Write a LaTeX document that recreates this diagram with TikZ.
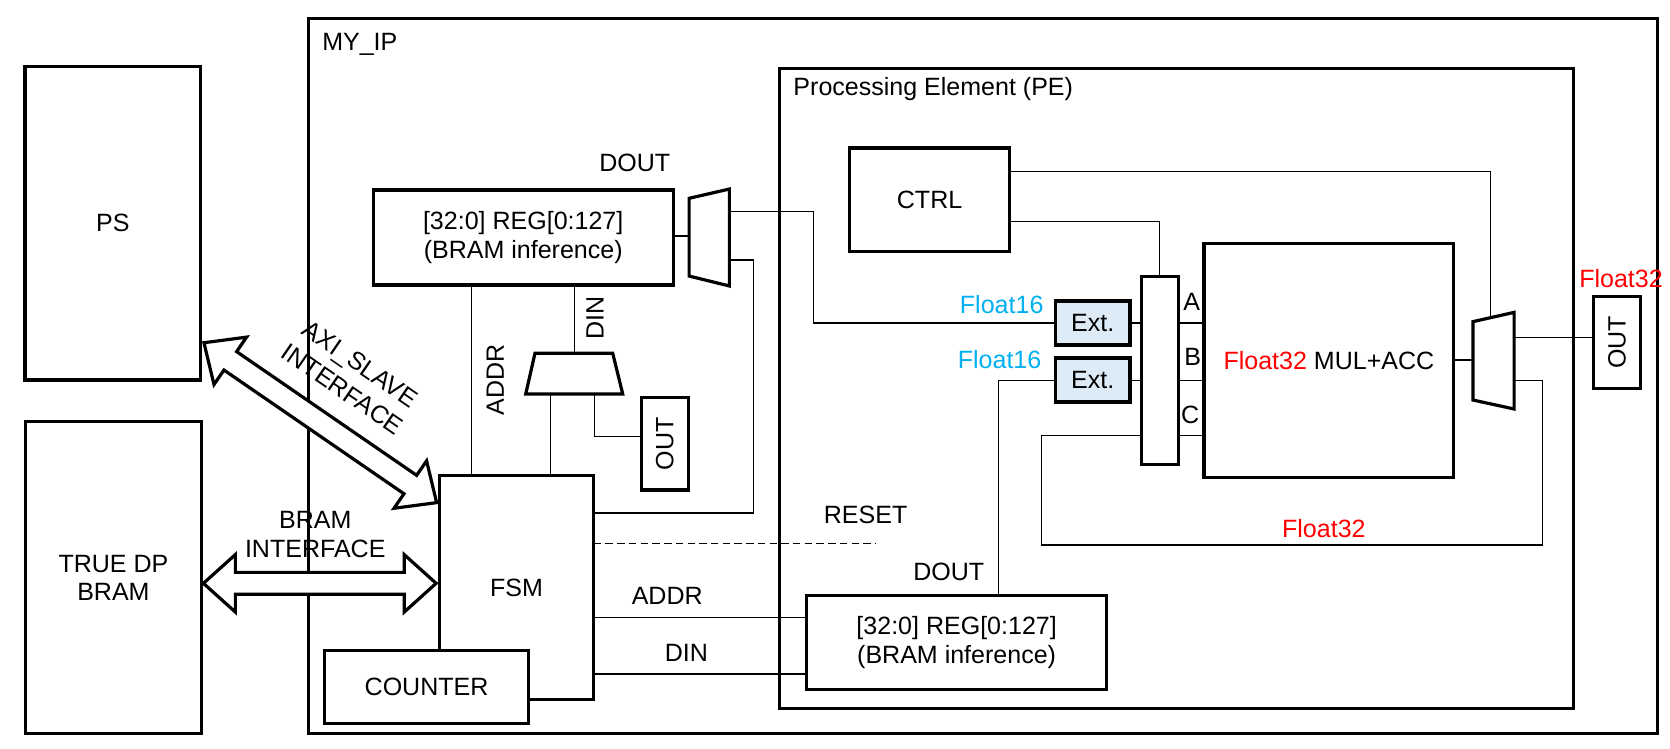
\documentclass[tikz,border=0pt]{standalone}
\usepackage{fontspec}
\setmainfont{Liberation Sans}
\definecolor{fsixteen}{HTML}{00B0F0}
\definecolor{fthirtytwo}{HTML}{FF0000}
\definecolor{extfill}{HTML}{DDEBF7}
\begin{document}
\begin{tikzpicture}[x=1pt,y=-1pt,
  font=\fontsize{23.5}{27}\selectfont,
  box/.style={draw,line width=3pt,fill=white,inner sep=0pt,outer sep=0pt,align=center},
  frame/.style={draw,line width=3pt,inner sep=0pt,outer sep=0pt},
  extbox/.style={draw,line width=3.6pt,fill=extfill,inner sep=0pt,outer sep=0pt,minimum width=70pt,minimum height=41.5pt},
  wire/.style={line width=1.1pt},
  lbl/.style={inner sep=0pt,outer sep=0pt,align=center},
  muxshape/.style={draw,line width=3pt,fill=white,line join=miter},
  blockarrow/.style={draw,line width=3pt,fill=white,line join=miter},
]
\useasboundingbox (0,0) rectangle (1568,703);

% frames
\node[frame,minimum width=1266pt,minimum height=672pt] (myip) at (923,353) {};
\node[lbl,anchor=west] (myiplbl) at (302.6,42) {MY\_IP};
\node[frame,minimum width=745pt,minimum height=601pt] (pe) at (1104.5,364.5) {};
\node[lbl,anchor=west] (pelbl) at (745,84) {Processing Element (PE)};

% outside blocks
\node[box,minimum width=165pt,minimum height=294pt] (ps) at (106,209.7) {PS};
\node[box,minimum width=165pt,minimum height=293pt] (tdp) at (106.5,542.5) {TRUE DP\\BRAM};

% MY_IP blocks
\node[box,minimum width=281.5pt,minimum height=89.2pt] (reg1) at (491.25,223) {[32:0] REG[0:127]\\(BRAM inference)};
\node[box,minimum width=145pt,minimum height=210.5pt] (fsm) at (485,551.75) {FSM};
\node[box,minimum width=191pt,minimum height=68pt] (counter) at (400.5,645) {COUNTER};
\node[box,minimum width=44.3pt,minimum height=86.6pt] (out1) at (624.2,416.7) {\rotatebox{90}{OUT}};

% PE blocks
\node[box,minimum width=281.5pt,minimum height=87.7pt] (reg2) at (898.2,603.2) {[32:0] REG[0:127]\\(BRAM inference)};
\node[box,minimum width=149.7pt,minimum height=97pt] (ctrl) at (872.8,187.5) {CTRL};
\node[box,minimum width=35pt,minimum height=176.2pt] (bar) at (1088.9,347.9) {};
\node[extbox] (ext1) at (1026,303.3) {Ext.};
\node[extbox] (ext2) at (1026,357) {Ext.};
\node[box,minimum width=234.6pt,minimum height=219.5pt] (mul) at (1247.7,338.25) {{\color{fthirtytwo}Float32} MUL+ACC};
\node[box,minimum width=44.5pt,minimum height=86pt] (out2) at (1518.25,321.6) {\rotatebox{90}{OUT}};

% multiplexers
\draw[muxshape] (647,186.2) -- (684.8,177.5) -- (684.8,268.5) -- (647,259.2) -- cycle;
\draw[muxshape] (502.3,331.7) -- (575.3,331.7) -- (584.7,370) -- (493.6,370) -- cycle;
\draw[muxshape] (1383,302) -- (1421.6,293.3) -- (1421.6,384) -- (1383,375.6) -- cycle;

\coordinate (m1in) at (647,221.6);
\coordinate (m1o1) at (684.8,198.7);
\coordinate (m1o2) at (684.8,244.1);
\coordinate (m2t) at (539.3,331.7);
\coordinate (m2bf) at (517,370);
\coordinate (m2bo) at (558,370);
\coordinate (m3in) at (1383,338);
\coordinate (m3o1) at (1421.6,317);
\coordinate (m3o2) at (1421.6,357.5);
\coordinate (m3t) at (1399.7,298.2);
\coordinate (rstend) at (822.5,510);

% wires
\draw[wire] (reg1.east |- m1in) -- (m1in);
\draw[wire] (m1o1) -- (763.7,198.7) |- (ext1.west);
\draw[wire] (m1o2) -- (707.4,244.1) |- (fsm.east |- 0,481.6);
\draw[wire] (reg1.south -| 443,0) -- (fsm.north -| 443,0);
\draw[wire] (reg1.south -| m2t) -- (m2t);
\draw[wire] (m2bf) -- (fsm.north -| m2bf);
\draw[wire] (m2bo) |- (out1.west |- 0,410);
\draw[wire,dash pattern=on 7pt off 4pt] (fsm.east |- rstend) -- (rstend);
\draw[wire] (fsm.east |- 0,579.7) -- (reg2.west |- 0,579.7);
\draw[wire] (fsm.east |- 0,632.9) -- (reg2.west |- 0,632.9);
\draw[wire] (reg2.north -| 937.4,0) |- (ext2.west);
\draw[wire] (ext1.east) -- (bar.west |- ext1.east);
\draw[wire] (ext2.east) -- (bar.west |- ext2.east);
\draw[wire] (ctrl.east |- 0,208.2) -| (bar.north);
\draw[wire] (ctrl.east |- 0,161.2) -| (m3t);
\draw[wire] (bar.east |- 0,303.3) -- (mul.west |- 0,303.3);
\draw[wire] (bar.east |- 0,357) -- (mul.west |- 0,357);
\draw[wire] (bar.east |- 0,409.1) -- (mul.west |- 0,409.1);
\draw[wire] (mul.east |- m3in) -- (m3in);
\draw[wire] (m3o1) -- (out2.west |- m3o1);
\draw[wire] (m3o2) -- (1448.5,357.5) -- (1448.5,511.7) -- (978.1,511.7) |- (bar.west |- 0,409.1);

% block arrows
\begin{scope}[shift={(191.5,321.8)},rotate=-34.5]
\draw[blockarrow] (0,0) -- (30,-27) -- (30,-10.5) -- (235.1,-10.5) -- (235.1,-27) -- (265.1,0)
  -- (235.1,27) -- (235.1,10.5) -- (30,10.5) -- (30,27) -- cycle;
\end{scope}
\begin{scope}[shift={(191,547.7)}]
\draw[blockarrow] (0,0) -- (30,-27) -- (30,-10.3) -- (188.5,-10.3) -- (188.5,-27) -- (218.5,0)
  -- (188.5,27) -- (188.5,10.3) -- (30,10.3) -- (30,27) -- cycle;
\end{scope}

% labels
\node[lbl,rotate=-34.5,font=\fontsize{23.5}{29}\selectfont] (axilbl) at (330,353.5) {AXI\_SLAVE\\INTERFACE};
\node[lbl] (bramlbl) at (296,502) {BRAM\\INTERFACE};
\node[lbl] (dout1) at (596,153.4) {DOUT};
\node[lbl,rotate=90] (addr1) at (465,357) {ADDR};
\node[lbl,rotate=90] (din1) at (558.7,298.7) {DIN};
\node[lbl] (reset) at (812.7,483.6) {RESET};
\node[lbl] (dout2) at (890.8,536.8) {DOUT};
\node[lbl] (addr2) at (626.5,559.6) {ADDR};
\node[lbl] (din2) at (644.5,612.8) {DIN};
\node[lbl,text=fsixteen] (f16a) at (940.5,286.4) {Float16};
\node[lbl,text=fsixteen] (f16b) at (938.5,337.4) {Float16};
\node[lbl] (la) at (1119,283.3) {A};
\node[lbl] (lb) at (1119.9,335) {B};
\node[lbl] (lc) at (1117.4,389.7) {C};
\node[lbl,text=fthirtytwo] (f32a) at (1243,496) {Float32};
\node[lbl,text=fthirtytwo] (f32b) at (1522,262) {Float32};
\end{tikzpicture}
\end{document}
